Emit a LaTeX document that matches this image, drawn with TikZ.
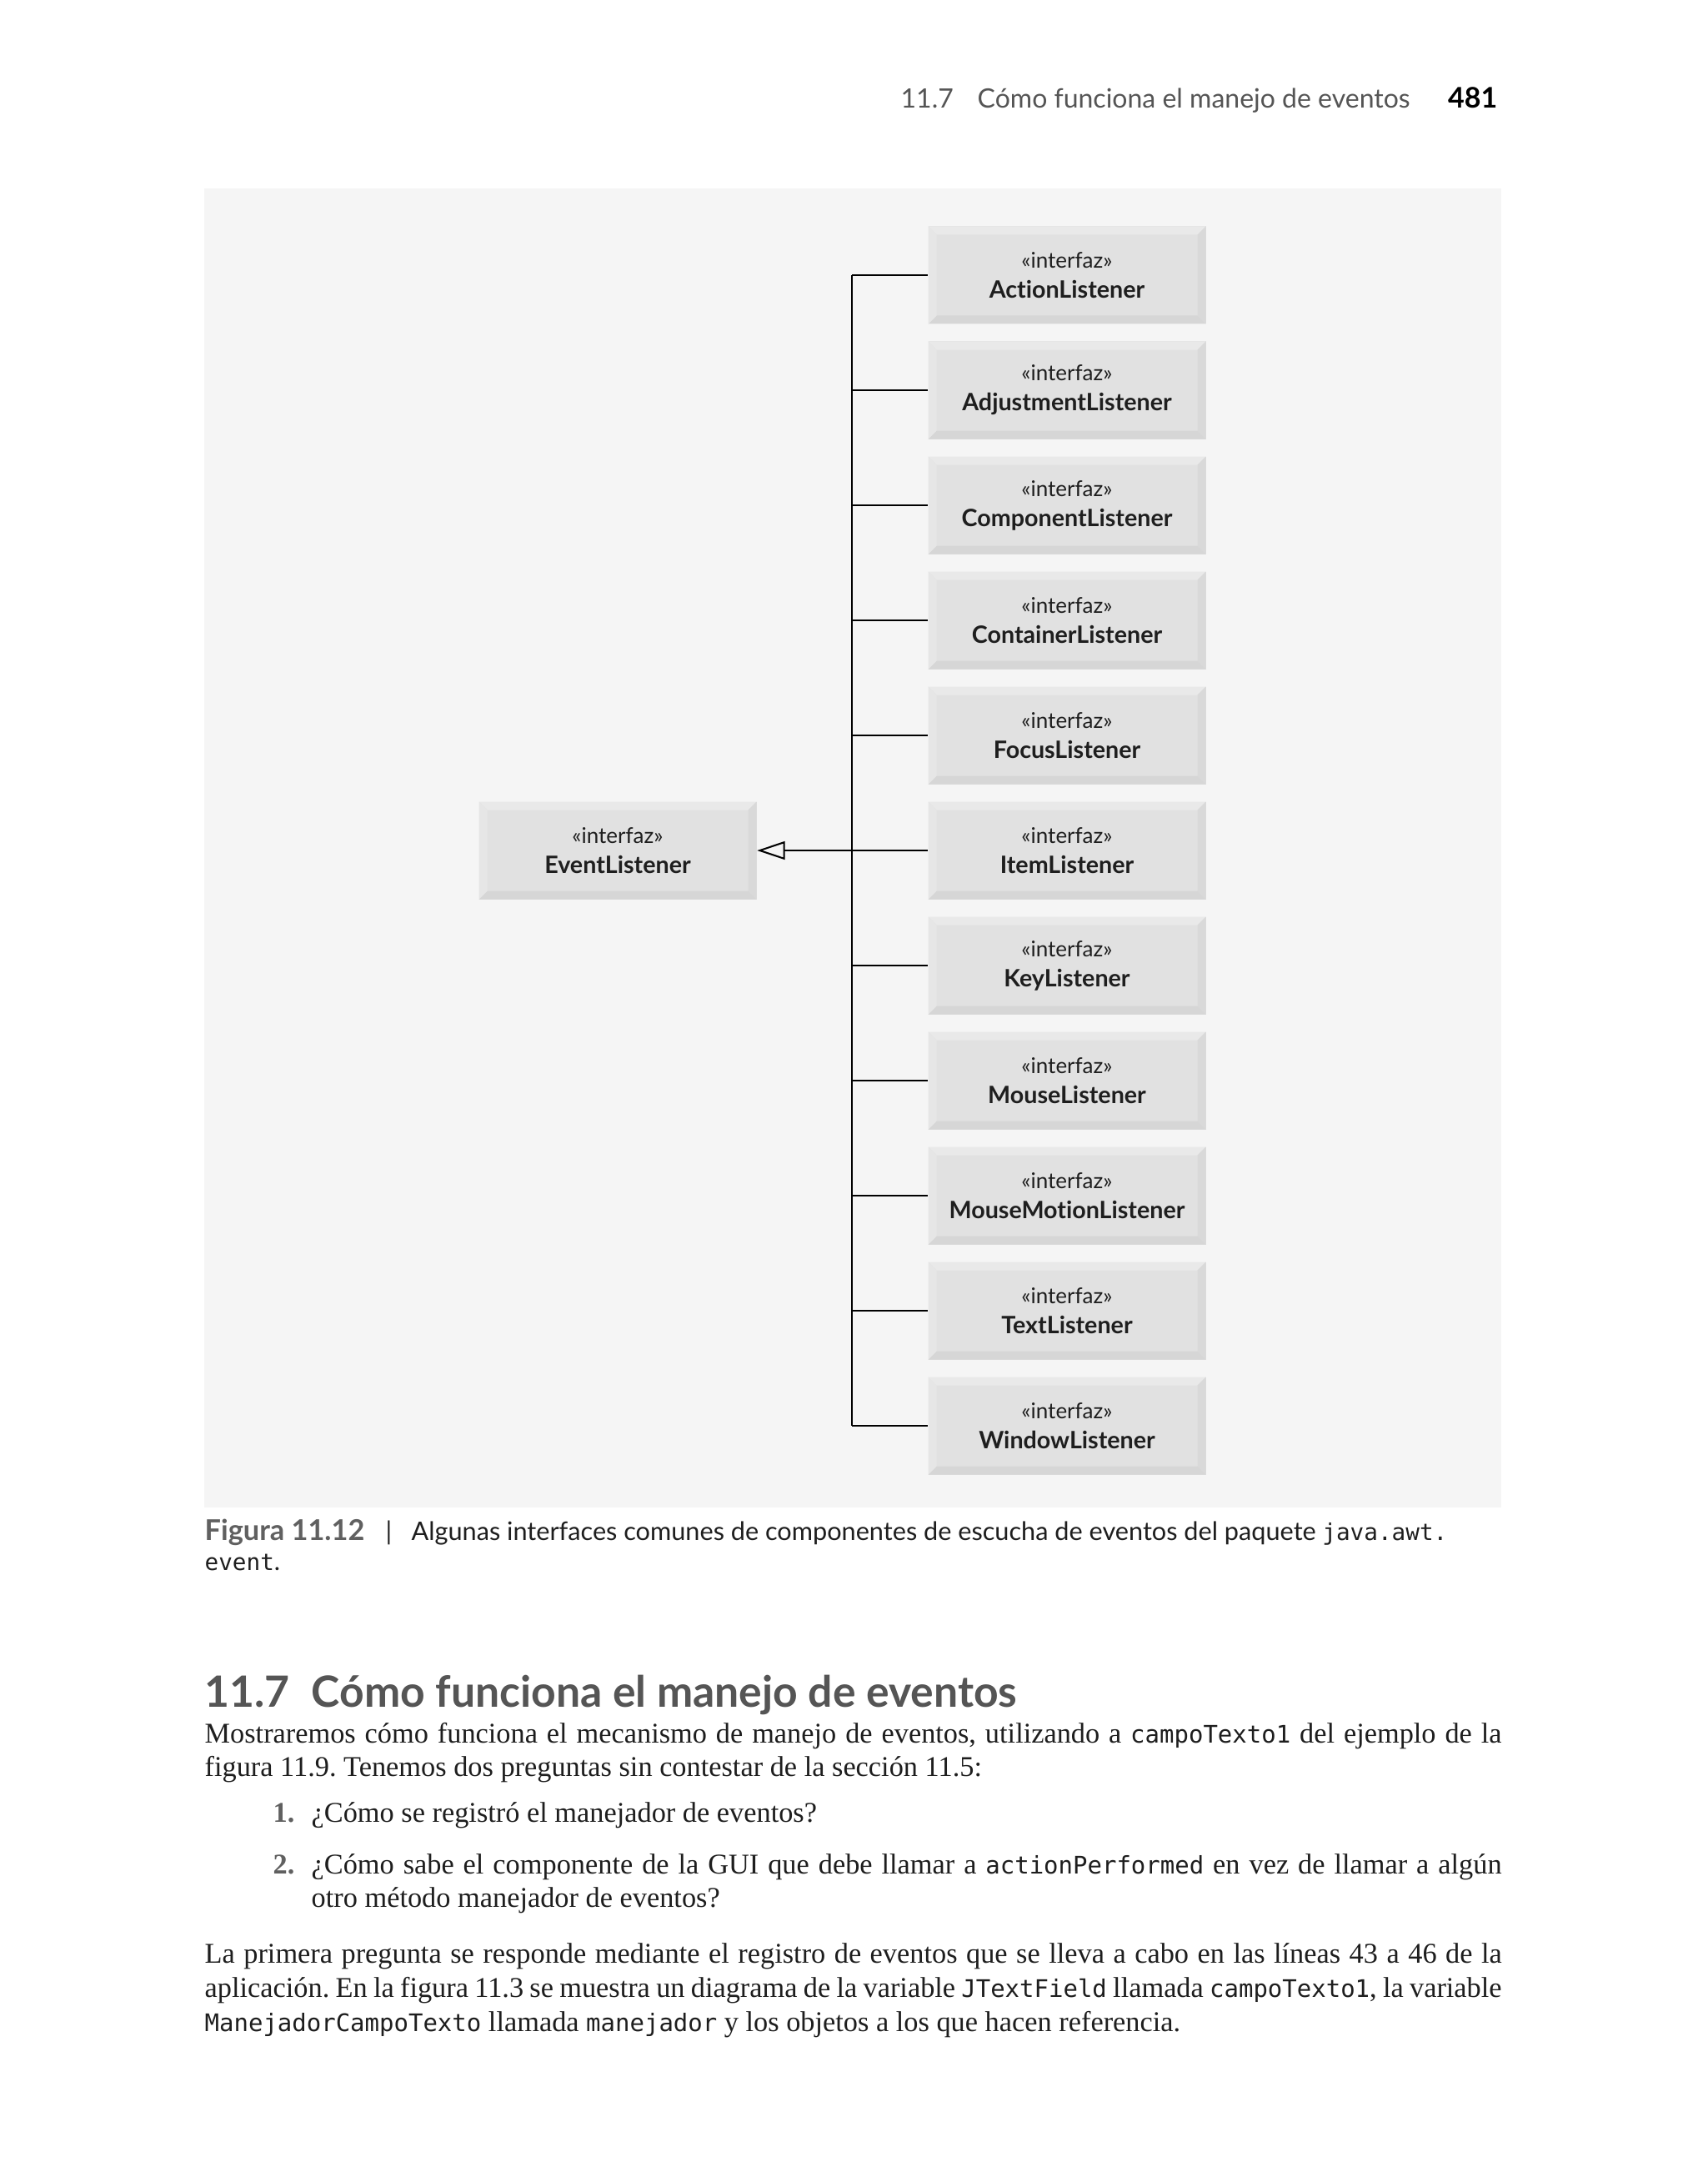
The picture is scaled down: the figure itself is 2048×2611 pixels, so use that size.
\documentclass[tikz,border=0pt]{standalone}
\usepackage{fontspec}
\setmainfont{Liberation Serif}
\setsansfont{Lato}[Ligatures=NoCommon]
\setmonofont{DejaVu Sans Mono}
\usetikzlibrary{arrows.meta}
\frenchspacing
\definecolor{panelbg}{HTML}{F5F5F5}
\definecolor{facegray}{HTML}{E1E1E1}
\definecolor{bevtop}{HTML}{E9E9E9}
\definecolor{bevleft}{HTML}{E6E6E6}
\definecolor{bevright}{HTML}{D9D9D9}
\definecolor{bevbot}{HTML}{D6D6D6}
\definecolor{textdark}{HTML}{1E1E1E}
\definecolor{headgray}{HTML}{555555}
\definecolor{capgray}{HTML}{606060}
\newcommand{\iflabel}[1]{«interfaz»\\{\fontsize{8.6}{10.8}\selectfont\bfseries #1}}
\newcommand{\codett}[1]{{\ttfamily\fontsize{8.7}{12}\selectfont #1}}
\begin{document}
\begin{tikzpicture}[x=0.3pt,y=-0.3pt,
  iface/.style={minimum width=99.9pt, minimum height=35.1pt, inner sep=0pt,
    fill=facegray, align=center, text=textdark,
    font=\sffamily\fontsize{7.8}{10.8}\selectfont,
    path picture={
      \fill[bevtop] (path picture bounding box.north west) -- (path picture bounding box.north east)
        -- ([shift={(-3pt,-3pt)}]path picture bounding box.north east)
        -- ([shift={(3pt,-3pt)}]path picture bounding box.north west) -- cycle;
      \fill[bevbot] (path picture bounding box.south west) -- (path picture bounding box.south east)
        -- ([shift={(-3pt,3pt)}]path picture bounding box.south east)
        -- ([shift={(3pt,3pt)}]path picture bounding box.south west) -- cycle;
      \fill[bevleft] (path picture bounding box.north west) -- (path picture bounding box.south west)
        -- ([shift={(3pt,3pt)}]path picture bounding box.south west)
        -- ([shift={(3pt,-3pt)}]path picture bounding box.north west) -- cycle;
      \fill[bevright] (path picture bounding box.north east) -- (path picture bounding box.south east)
        -- ([shift={(-3pt,3pt)}]path picture bounding box.south east)
        -- ([shift={(-3pt,-3pt)}]path picture bounding box.north east) -- cycle;
    }},
  conn/.style={draw=black, line width=0.6pt},
  txt/.style={inner sep=0pt, anchor=base west, text=textdark},
  bodyfont/.style={font=\rmfamily\fontsize{10.3}{12}\selectfont\frenchspacing}
]
\useasboundingbox[fill=white] (0,0) rectangle (2048,2611);

% running header
\node[txt, text=headgray, font=\sffamily\fontsize{9.6}{12}\selectfont] (hnum) at (1080,130) {11.7};
\node[txt, text=headgray, font=\sffamily\fontsize{9.6}{12}\selectfont] (htitle) at (1172,130) {Cómo funciona el manejo de eventos};
\node[txt, anchor=base east, text=black, font=\sffamily\fontsize{10.2}{12}\selectfont\bfseries] (hpage) at (1797,130) {481};

% panel
\fill[panelbg] (245,226) rectangle (1801,1808);

% interface boxes
\foreach \n [count=\i from 0] in {Action,Adjustment,Component,Container,Focus,Item,Key,Mouse,MouseMotion,Text,Window}{
  \node[iface] (\n) at (1280,{330+138*\i}) {\iflabel{\n Listener}};
}
\node[iface] (Event) at (741,1020) {\iflabel{EventListener}};

% connectors
\coordinate (bus) at (1022,1020);
\foreach \n in {Action,Adjustment,Component,Container,Focus,Key,Mouse,MouseMotion,Text,Window}{
  \draw[conn] (\n.west) -- (\n.west -| bus);
}
\draw[conn, line join=miter] (Action.west -| bus) -- (Window.west -| bus);
\draw[conn, -{Triangle[open, length=10pt, width=6.5pt, line width=0.6pt]}] (Item.west) -- (Event.east);

% caption
\node[txt, text=capgray, font=\sffamily\fontsize{10.3}{12}\selectfont\bfseries] (capfig) at (245,1847) {Figura 11.12};
\node[txt, font=\sffamily\fontsize{9.2}{12}\selectfont] (capbar) at (462,1847) {|};
\node[txt, font=\sffamily\fontsize{9.2}{12}\selectfont] (captext) at (493,1847) {Algunas interfaces comunes de componentes de escucha de eventos del paquete {\ttfamily\fontsize{8.3}{12}\selectfont java.awt.}};
\node[txt, font=\ttfamily\fontsize{8.3}{12}\selectfont] (capev) at (245,1883) {event{\sffamily\fontsize{9.2}{12}\selectfont .}};

% section heading
\node[txt, text=headgray, font=\sffamily\fontsize{15.5}{18}\selectfont\bfseries] (sec) at (245,2047) {11.7\enspace Cómo funciona el manejo de eventos};

% body
\node[txt, bodyfont] (l1) at (245,2090) {\makebox[466.8pt][s]{Mostraremos cómo funciona el mecanismo de manejo de eventos, utilizando a \codett{campoTexto1} del ejemplo de la}};
\node[txt, bodyfont] (l2) at (245,2130) {figura 11.9. Tenemos dos preguntas sin contestar de la sección 11.5:};
\node[txt, text=capgray, font=\rmfamily\fontsize{10.3}{12}\selectfont\bfseries] (n1) at (327,2185) {1.};
\node[txt, bodyfont] (i1) at (373,2185) {¿Cómo se registró el manejador de eventos?};
\node[txt, text=capgray, font=\rmfamily\fontsize{10.3}{12}\selectfont\bfseries] (n2) at (327,2247) {2.};
\node[txt, bodyfont] (i2a) at (373,2247) {\makebox[428.4pt][s]{¿Cómo sabe el componente de la GUI que debe llamar a \codett{actionPerformed} en vez de llamar a algún}};
\node[txt, bodyfont] (i2b) at (373,2287) {otro método manejador de eventos?};
\node[txt, bodyfont] (p1) at (245,2354) {\makebox[466.8pt][s]{La primera pregunta se responde mediante el registro de eventos que se lleva a cabo en las líneas 43 a 46 de la}};
\node[txt, bodyfont] (p2) at (245,2395) {\makebox[466.8pt][s]{aplicación. En la figura 11.3 se muestra un diagrama de la variable \codett{JTextField} llamada \codett{campoTexto1}, la variable}};
\node[txt, bodyfont] (p3) at (245,2436) {\codett{ManejadorCampoTexto} llamada \codett{manejador} y los objetos a los que hacen referencia.};
\end{tikzpicture}
\end{document}
